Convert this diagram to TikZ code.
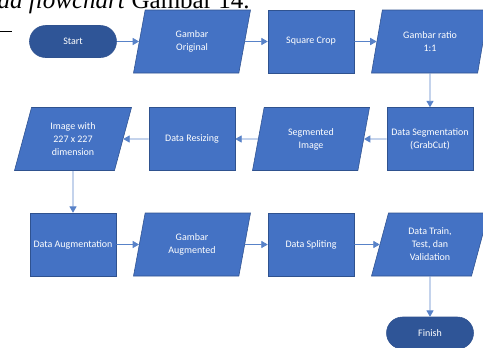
\documentclass[tikz,border=0pt]{standalone}
\usepackage{fontspec}
\setmainfont{Carlito}
\newfontfamily\captionserif{Liberation Serif}
\usetikzlibrary{shapes.geometric,arrows.meta,positioning}
\definecolor{boxblue}{RGB}{68,114,196}
\definecolor{termblue}{RGB}{47,85,151}
\definecolor{edgeblue}{RGB}{47,82,143}
\definecolor{arrowblue}{RGB}{88,130,200}
\begin{document}
\begin{tikzpicture}[rect/.style={draw=edgeblue,fill=boxblue,text=white,align=center,inner sep=1pt,line width=0.4pt,minimum width=2.15cm,minimum height=1.575cm,font=\fontsize{7.1}{9.2}\selectfont},
                    para/.style={rect,trapezium,trapezium left angle=64.5,trapezium right angle=115.5,trapezium stretches body,minimum width=2.925cm},
                    term/.style={rect,fill=termblue,rounded corners=0.4cm,minimum width=2.175cm,minimum height=0.8cm},
                    arr/.style={-{Triangle[length=0.16cm,width=0.18cm]},draw=arrowblue,line width=0.6pt},
                    node distance={2.975cm}]
                \useasboundingbox (0,0) rectangle (12.075,-8.675);
                \clip (0,0) rectangle (12.075,-8.675);
                % caption line cut at the top of the page
                \node[font=\captionserif\fontsize{17.8}{20}\selectfont,anchor=base east,inner sep=0](cap) at (6.25,-0.2){\textit{da flowchart} Gambar 14.};
                \draw[line width=1.1pt] (0,-0.79) -- (0.3,-0.79);
                % first row
                \node[term](start) at (1.825,-1.0375){Start};
                \node[para](orig)[right of=start]{Gambar\\Original};
                \node[rect](crop)[right of=orig]{Square Crop};
                \node[para](ratio)[right of=crop]{Gambar ratio\\1:1};
                % second row
                \node[rect](seg)[below of=ratio,node distance=2.4375cm]{Data Segmentation\\(GrabCut)};
                \node[para](segimg)[left of=seg]{Segmented\\Image};
                \node[rect](resize)[left of=segimg]{Data Resizing};
                \node[para](dim)[left of=resize]{Image with\\227 x 227\\dimension};
                % third row
                \node[rect](aug)[below of=dim,node distance=2.6375cm]{Data Augmentation};
                \node[para](augimg)[right of=aug]{Gambar\\Augmented};
                \node[rect](split)[right of=augimg]{Data Spliting};
                \node[para](sets)[right of=split]{Data Train,\\Test, dan\\Validation};
                \node[term](finish)[below of=sets,node distance=2.2125cm]{Finish};
                \draw[arr](start) -- (orig);
                \draw[arr](orig) -- (crop);
                \draw[arr](crop) -- (ratio);
                \draw[arr](ratio) -- (seg);
                \draw[arr](seg) -- (segimg);
                \draw[arr](segimg) -- (resize);
                \draw[arr](resize) -- (dim);
                \draw[arr](dim) -- (aug);
                \draw[arr](aug) -- (augimg);
                \draw[arr](augimg) -- (split);
                \draw[arr](split) -- (sets);
                \draw[arr](sets) -- (finish);
            \end{tikzpicture}
\end{document}
